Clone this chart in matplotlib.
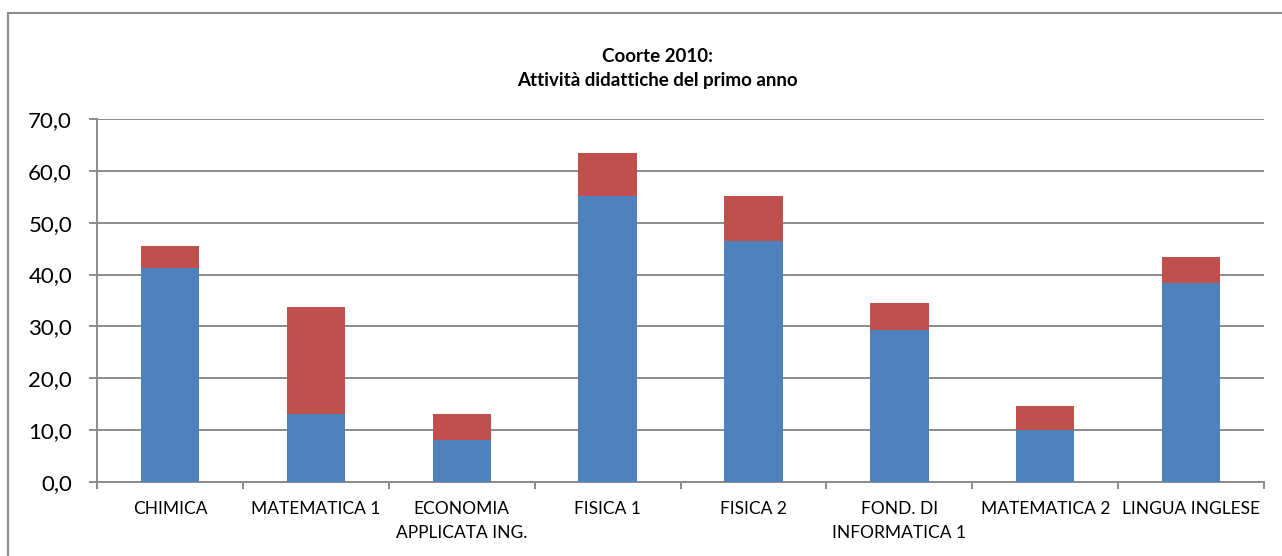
import matplotlib
matplotlib.use("Agg")
import matplotlib.pyplot as plt
from matplotlib.lines import Line2D
from matplotlib.ticker import FuncFormatter

plt.rcParams["font.family"] = ["Lato", "DejaVu Sans"]

categories = ["CHIMICA", "MATEMATICA 1", "ECONOMIA\nAPPLICATA ING.", "FISICA 1",
              "FISICA 2", "FOND. DI\nINFORMATICA 1", "MATEMATICA 2", "LINGUA INGLESE"]
blue_vals = [41.2, 13.2, 8.1, 55.2, 46.4, 29.4, 10.1, 38.3]
totals = [45.6, 33.8, 13.2, 63.4, 55.2, 34.6, 14.6, 43.4]
red_vals = [t - b for t, b in zip(totals, blue_vals)]

fig = plt.figure(figsize=(12.82, 5.56), dpi=100)
ax = fig.add_axes([0.0757, 0.1331, 0.9103, 0.6529])

x = range(len(categories))
ax.bar(x, blue_vals, width=0.4, color="#4F81BD", zorder=3)
ax.bar(x, red_vals, width=0.4, bottom=blue_vals, color="#C0504D", zorder=3)

ax.set_xlim(-0.5, len(categories) - 0.5)
ax.set_ylim(0, 70)
ax.set_yticks(range(0, 71, 10))
ax.yaxis.set_major_formatter(FuncFormatter(lambda v, p: f"{v:.1f}".replace(".", ",")))
ax.grid(axis="y", color="#8c8c8c", linewidth=1.4, zorder=0)

ax.set_xticks(list(x))
ax.set_xticklabels(categories, fontsize=12.5, linespacing=1.55)
ax.set_xticks([i - 0.5 for i in range(len(categories) + 1)], minor=True)
ax.tick_params(axis="x", which="major", length=0, pad=14)
ax.tick_params(axis="x", which="minor", length=5, color="#8c8c8c", width=1.4)
ax.tick_params(axis="y", length=6, color="#8c8c8c", width=1.4, labelsize=16, pad=12)

for side in ["top", "right"]:
    ax.spines[side].set_visible(False)
for side in ["left", "bottom"]:
    ax.spines[side].set_color("#8c8c8c")
    ax.spines[side].set_linewidth(1.4)

fig.text(0.513, 0.877, "Coorte 2010:\nAttività didattiche del primo anno",
         ha="center", va="center", fontsize=13.5, fontweight="bold", linespacing=1.45)

# outer chart border
fig.add_artist(Line2D([8 / 1282, 8 / 1282], [0, 1 - 13 / 556], transform=fig.transFigure,
                      color="#8c8c8c", linewidth=1.5))
fig.add_artist(Line2D([8 / 1282, 1], [1 - 13 / 556, 1 - 13 / 556], transform=fig.transFigure,
                      color="#8c8c8c", linewidth=1.5))

fig.savefig("out.png", dpi=100)
